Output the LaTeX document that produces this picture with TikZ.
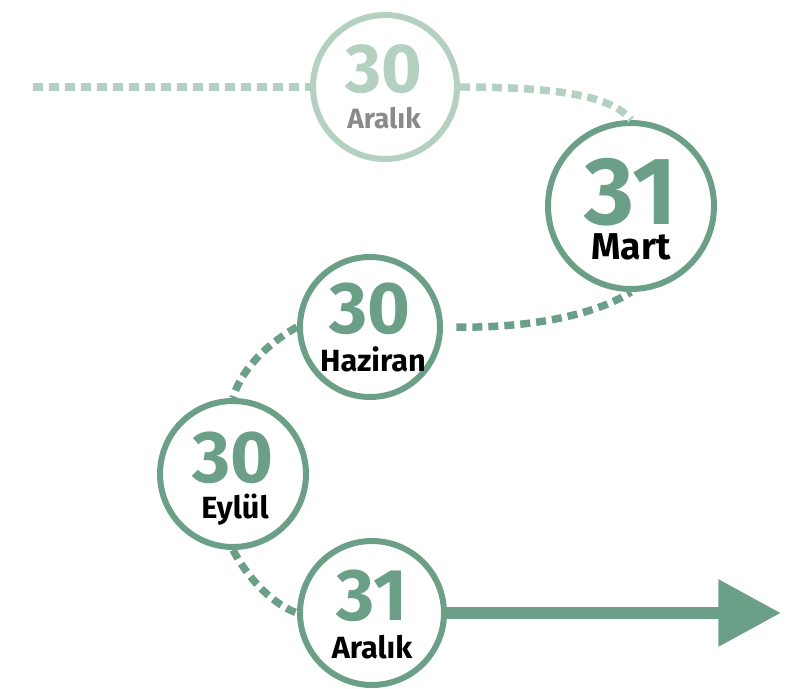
\documentclass[tikz,border=0pt]{standalone}
\usepackage{fontspec}
\setmainfont{Fira Sans}
\usetikzlibrary{arrows.meta}
\definecolor{maingreen}{HTML}{6B9F87}
\definecolor{lightgreen}{HTML}{B3D0C1}
\definecolor{graytext}{HTML}{8A8A8A}
\tikzset{
  ring/.style={circle, draw=maingreen, line width=4.5pt, inner sep=0pt},
  fadering/.style={ring, draw=lightgreen},
  daynum/.style={anchor=base, inner sep=0pt, text depth=0pt, text=maingreen, font=\bfseries\fontsize{55}{55}\selectfont},
  monthlbl/.style={anchor=base, inner sep=0pt, text height=0.72em, text depth=0pt, text=black, font=\bfseries\fontsize{23}{23}\selectfont},
  dotline/.style={line width=5.6pt, dash pattern=on 7.5pt off 4.5pt, draw=maingreen},
}
\begin{document}
\begin{tikzpicture}[x=0.75pt,y=-0.75pt]
\useasboundingbox (0,0) rectangle (794,689);
% rings
\node[fadering, minimum size=150*0.75pt-4.5pt] (r1) at (385,87) {};
\node[ring, minimum size=172*0.75pt-4.5pt] (r2) at (631,206) {};
\node[ring, minimum size=146*0.75pt-4.5pt] (r3) at (370,327) {};
\node[ring, minimum size=152*0.75pt-4.5pt] (r4) at (233,474) {};
\node[ring, minimum size=150*0.75pt-4.5pt] (r5) at (372,613) {};
\coordinate (start) at (33,87);
\coordinate (tip) at (781,613);
% connectors
\draw[dotline, draw=lightgreen] (start) -- (r1.west);
\draw[dotline, draw=lightgreen] (r1.east) .. controls (575,87) and (615,100) .. (r2.north);
\draw[dotline, shorten <=10pt] (r3.east) .. controls (540,328) and (600,312) .. (r2.south);
\draw[dotline] (r3.west) .. controls (265,345) and (240,372) .. (r4.north);
\draw[dotline] (r4.south) .. controls (250,582) and (275,605) .. (r5.west);
\draw[maingreen, line width=9.4pt, -{Triangle[length=47pt,width=48pt]}] (r5.east) -- (tip);
% texts
\node[daynum, text=lightgreen, font=\bfseries\fontsize{52}{52}\selectfont] (d1) at (384,92) {30};
\node[monthlbl, text=graytext, font=\bfseries\fontsize{21}{21}\selectfont] (m1) at (384,128) {Aralık};
\node[daynum, font=\bfseries\fontsize{72}{72}\selectfont] (d2) at (631,224) {31};
\node[monthlbl, font=\bfseries\fontsize{28}{28}\selectfont] (m2) at (631,259) {Mart};
\node[daynum] (d3) at (370,333) {30};
\node[monthlbl] (m3) at (373,371) {Haziran};
\node[daynum] (d4) at (233,482) {30};
\node[monthlbl] (m4) at (235,518) {Eylül};
\node[daynum] (d5) at (372,620) {31};
\node[monthlbl] (m5) at (372,658) {Aralık};
\end{tikzpicture}
\end{document}
